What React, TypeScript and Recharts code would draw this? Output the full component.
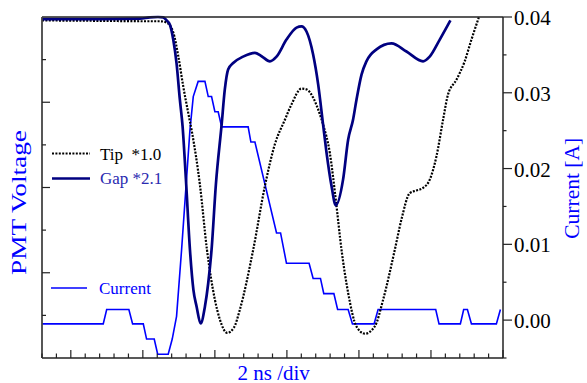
import React from "react";
import { LineChart, Line, XAxis, YAxis, Legend } from "recharts";

// time axis in divisions (minor ticks), 2 ns per major division
const timeTicks = Array.from({ length: 33 }, (_, i) => i);
const pmtTicks = [1, 2, 3, 4, 5, 6, 7];
const ampTicks = [-0.005, 0, 0.005, 0.01, 0.015, 0.02, 0.025, 0.03, 0.035, 0.04];

// PMT signal at the tip, scale *1.0  [t, V]
const tipTrace: [number, number][] = [
  [0, 7.92], [4.0, 7.91], [7.5, 7.9], [8.2, 7.9], [8.65, 7.87], [9.11, 7.64],
  [9.46, 7.08], [9.8, 6.38], [10.15, 5.75], [10.41, 5.3], [10.96, 4.07],
  [11.45, 2.54], [12.0, 1.37], [12.35, 0.9], [12.85, 0.59], [13.32, 0.71],
  [13.73, 1.13], [14.66, 2.54], [15.47, 4.03], [16.16, 5.01], [16.86, 5.59],
  [17.32, 5.95], [18.01, 6.32], [18.38, 6.3], [18.82, 6.11], [19.17, 5.83],
  [19.51, 5.48], [19.98, 4.81], [20.39, 3.72], [20.79, 2.54], [21.25, 1.53],
  [21.83, 0.74], [22.41, 0.57], [23.1, 0.74], [23.68, 1.37], [24.49, 2.54],
  [24.95, 3.25], [25.53, 3.87], [25.99, 3.93], [26.45, 3.99], [26.91, 4.18],
  [27.38, 4.73], [27.84, 5.59], [28.18, 6.18], [28.77, 6.53], [29.34, 6.96],
  [29.81, 7.47], [30.33, 8.0],
];

// PMT signal in the gap, scale *2.1
const gapTrace: [number, number][] = [
  [0, 7.95], [4.0, 7.95], [6.8, 7.96], [7.49, 7.99], [8.05, 8.0], [8.41, 7.99],
  [8.65, 7.92], [8.88, 7.82], [9.11, 7.47], [9.34, 6.91], [9.57, 6.06],
  [9.76, 5.43], [9.99, 4.19], [10.27, 2.54], [10.51, 1.6], [10.73, 1.21],
  [11.01, 0.81], [11.31, 1.21], [11.54, 1.76], [11.77, 2.54], [12.07, 4.07],
  [12.47, 5.48], [12.69, 6.3], [12.92, 6.77], [13.27, 6.92], [13.96, 7.07],
  [14.78, 7.16], [15.24, 7.08], [15.82, 6.96], [16.28, 7.07], [16.97, 7.47],
  [17.67, 7.75], [18.01, 7.78], [18.36, 7.66], [18.82, 7.12], [19.17, 6.42],
  [19.51, 5.48], [19.75, 4.82], [20.1, 4.03], [20.39, 3.58], [20.9, 4.19],
  [21.25, 5.12], [21.59, 5.59], [21.83, 6.06], [22.18, 6.65], [22.52, 6.96],
  [23.22, 7.24], [24.26, 7.38], [25.3, 7.19], [26.45, 6.96], [26.91, 7.07],
  [27.61, 7.47], [28.35, 7.92],
];

// discharge current [A]
const currentTrace: [number, number][] = [
  [0, -0.0005], [4.25, -0.0005], [4.49, 0.0014], [6.03, 0.0014], [6.29, -0.0005],
  [7.03, -0.0005], [7.26, -0.0025], [7.79, -0.0025], [8.03, -0.0045],
  [8.76, -0.0045], [9.04, -0.0025], [9.34, 0.0005], [9.69, 0.0093],
  [10.27, 0.0251], [10.5, 0.0295], [10.84, 0.0315], [11.31, 0.0315],
  [11.54, 0.0295], [11.77, 0.0295], [12.0, 0.0275], [12.23, 0.0275],
  [12.47, 0.0255], [14.31, 0.0255], [14.5, 0.0235], [14.78, 0.0235],
  [16.28, 0.0115], [16.56, 0.0115], [16.97, 0.0075], [18.54, 0.0075],
  [18.82, 0.0055], [19.33, 0.0055], [19.56, 0.0035], [20.26, 0.0035],
  [20.52, 0.0014], [21.25, 0.0014], [21.55, -0.0005], [23.05, -0.0005],
  [23.33, 0.0014], [27.33, 0.0014], [27.56, -0.0005], [29.04, -0.0005],
  [29.27, 0.0014], [29.53, 0.0014], [29.81, -0.0005], [31.54, -0.0005],
  [31.82, 0.0014],
];

const toRows = (trace: [number, number][]) => trace.map(([t, v]) => ({ t, v }));

const FONT = "'Liberation Serif', 'Times New Roman', serif";
const serif = { fontFamily: FONT };
const BLUE = "#0000ff";
const NAVY = "#000080";
const AXIS = "#222";

const BottomTick = (props: any) => {
  const { x, y, payload } = props;
  const len = (payload.value - 2) % 5 === 0 ? 8 : 4.5;
  return <line x1={x} y1={y} x2={x} y2={y - len} stroke={AXIS} strokeWidth={1.2} />;
};

const TopTick = (props: any) => {
  const { x, y, payload } = props;
  const len = (payload.value - 2) % 5 === 0 ? 8 : 4;
  return <line x1={x} y1={y} x2={x} y2={y + len} stroke={AXIS} strokeWidth={1.2} />;
};

const LeftTick = (props: any) => {
  const { x, y, payload } = props;
  const len = payload.value % 2 === 0 ? 8 : 4;
  return <line x1={x} y1={y} x2={x + len} y2={y} stroke={AXIS} strokeWidth={1.2} />;
};

const RightTick = (props: any) => {
  const { x, y, payload } = props;
  const v = payload.value;
  const major = Math.abs(Math.round(v * 100) - v * 100) < 1e-6;
  return (
    <g>
      <line x1={x} y1={y} x2={x + (major ? 9 : 3.5)} y2={y} stroke={AXIS} strokeWidth={1.2} />
      {major && (
        <text x={x + 11} y={y + 8} fontSize={21} style={serif} fill="#000">
          {v.toFixed(2)}
        </text>
      )}
    </g>
  );
};

const LegendBox = () => (
  <svg width={200} height={310} style={{ display: "block" }}>
    <line x1={52} y1={153.5} x2={90} y2={153.5} stroke="#000" strokeWidth={2.2} strokeDasharray="2 1.4" />
    <text x={100} y={159.5} fontSize={17} style={serif} fill="#000">
      {"Tip\u00a0\u00a0*1.0"}
    </text>
    <line x1={52} y1={178.5} x2={90} y2={178.5} stroke={NAVY} strokeWidth={2.7} />
    <text x={100} y={184} fontSize={17} style={serif} fill="#2a2ab0">
      Gap *2.1
    </text>
    <line x1={51} y1={288} x2={87} y2={288} stroke={BLUE} strokeWidth={1.6} />
    <text x={99} y={294} fontSize={17} style={serif} fill={BLUE}>
      Current
    </text>
  </svg>
);

export default function App() {
  return (
    <div style={{ position: "absolute", left: 0, top: 0, ...serif }}>
      <LineChart
        width={587}
        height={383}
        margin={{ top: 0, right: 0, bottom: 0, left: 0 }}
        style={serif}
      >
        <XAxis
          xAxisId="b"
          type="number"
          dataKey="t"
          orientation="bottom"
          domain={[0, 32]}
          ticks={timeTicks}
          interval={0}
          height={25}
          tickSize={0}
          tickMargin={0}
          tickLine={false}
          tick={BottomTick}
          axisLine={{ stroke: AXIS, strokeWidth: 1.5 }}
        />
        <XAxis
          xAxisId="t"
          type="number"
          dataKey="t"
          orientation="top"
          domain={[0, 32]}
          ticks={timeTicks}
          interval={0}
          height={17}
          tickSize={0}
          tickMargin={0}
          tickLine={false}
          tick={TopTick}
          axisLine={{ stroke: AXIS, strokeWidth: 1.5 }}
        />
        <YAxis
          yAxisId="pmt"
          orientation="left"
          domain={[0, 8]}
          ticks={pmtTicks}
          interval={0}
          width={42}
          tickSize={0}
          tickMargin={0}
          tickLine={false}
          tick={LeftTick}
          axisLine={{ stroke: "#444", strokeWidth: 1.8 }}
        />
        <YAxis
          yAxisId="amp"
          orientation="right"
          domain={[-0.005, 0.04]}
          ticks={ampTicks}
          interval={0}
          width={84}
          tickSize={0}
          tickMargin={0}
          tickLine={false}
          tick={RightTick}
          axisLine={{ stroke: AXIS, strokeWidth: 1.5 }}
        />
        <Legend
          layout="vertical"
          align="center"
          verticalAlign="middle"
          content={LegendBox}
          wrapperStyle={{ left: 0, top: 0, width: 200, height: 310 }}
        />
        <Line
          xAxisId="b"
          yAxisId="amp"
          data={toRows(currentTrace)}
          dataKey="v"
          type="linear"
          stroke={BLUE}
          strokeWidth={1.6}
          dot={false}
          isAnimationActive={false}
        />
        <Line
          xAxisId="b"
          yAxisId="pmt"
          data={toRows(tipTrace)}
          dataKey="v"
          type="monotone"
          stroke="#000"
          strokeWidth={2.2}
          strokeDasharray="2 1.4"
          dot={false}
          isAnimationActive={false}
        />
        <Line
          xAxisId="b"
          yAxisId="pmt"
          data={toRows(gapTrace)}
          dataKey="v"
          type="monotone"
          stroke={NAVY}
          strokeWidth={2.7}
          dot={false}
          isAnimationActive={false}
        />
      </LineChart>
      <svg
        width={587}
        height={383}
        style={{ position: "absolute", left: 0, top: 0, pointerEvents: "none" }}
      >
        <text
          x={26}
          y={202.5}
          transform="rotate(-90 26 202.5)"
          textAnchor="middle"
          fontSize={22}
          style={serif}
          fill={BLUE}
          textLength={145}
          lengthAdjust="spacingAndGlyphs"
        >
          PMT Voltage
        </text>
        <text
          x={579.5}
          y={188.3}
          transform="rotate(-90 579.5 188.3)"
          textAnchor="middle"
          fontSize={21.5}
          style={serif}
          fill={BLUE}
        >
          Current [A]
        </text>
        <text x={273.7} y={379.5} textAnchor="middle" fontSize={21} style={serif} fill={BLUE}>
          2 ns /div
        </text>
      </svg>
    </div>
  );
}
